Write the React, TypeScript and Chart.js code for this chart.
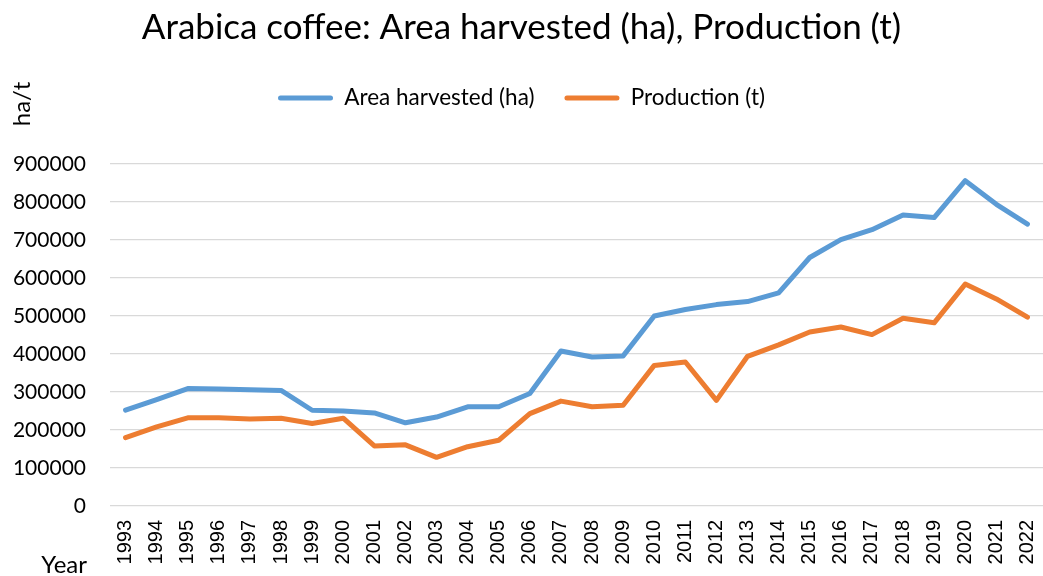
import React, { useEffect, useRef } from "react";
import { Chart, registerables } from "chart.js";

Chart.register(...registerables);

const years: string[] = [
  "1993", "1994", "1995", "1996", "1997", "1998", "1999", "2000", "2001", "2002",
  "2003", "2004", "2005", "2006", "2007", "2008", "2009", "2010", "2011", "2012",
  "2013", "2014", "2015", "2016", "2017", "2018", "2019", "2020", "2021", "2022",
];

const areaHarvested: number[] = [
  252000, 280000, 309000, 308000, 306000, 304000, 252000, 250000, 245000, 219000,
  234000, 261000, 261000, 296000, 408000, 392000, 395000, 500000, 517000, 530000,
  538000, 561000, 654000, 701000, 727000, 766000, 759000, 856000, 794000, 742000,
];

const production: number[] = [
  180000, 208000, 232000, 232000, 229000, 231000, 217000, 231000, 158000, 161000,
  128000, 156000, 173000, 243000, 276000, 261000, 265000, 370000, 379000, 278000,
  394000, 424000, 458000, 471000, 451000, 494000, 482000, 584000, 545000, 497000,
];

const yTicks: number[] = [0, 100000, 200000, 300000, 400000, 500000, 600000, 700000, 800000, 900000];

const titleText = "Arabica coffee: Area harvested (ha), Production (t)";
const yAxisLabel = "ha/t";
const xAxisLabel = "Year";

const FONT = "Lato, 'Open Sans', sans-serif";

const extraLabels = {
  id: "extraLabels",
  afterDraw(chart: any) {
    const ctx = chart.ctx;
    ctx.save();
    ctx.fillStyle = "#000000";
    ctx.font = `24px ${FONT}`;
    ctx.textBaseline = "middle";
    ctx.textAlign = "center";
    ctx.translate(22, 104);
    ctx.rotate(-Math.PI / 2);
    ctx.fillText(yAxisLabel, 0, 0);
    ctx.restore();
    ctx.save();
    ctx.fillStyle = "#000000";
    ctx.font = `24px ${FONT}`;
    ctx.textBaseline = "middle";
    ctx.textAlign = "right";
    ctx.fillText(xAxisLabel, 87, 565);
    ctx.restore();
  },
};

export default function App() {
  const ref = useRef<HTMLCanvasElement | null>(null);
  useEffect(() => {
    if (!ref.current) return;
    const chart = new Chart(ref.current, {
      type: "line",
      data: {
        labels: years,
        datasets: [
          {
            label: "Area harvested (ha)",
            data: areaHarvested,
            borderColor: "#5B9BD5",
            backgroundColor: "#5B9BD5",
            borderWidth: 5,
            pointRadius: 0,
            borderJoinStyle: "round",
            borderCapStyle: "round",
            tension: 0,
          },
          {
            label: "Production (t)",
            data: production,
            borderColor: "#ED7D31",
            backgroundColor: "#ED7D31",
            borderWidth: 5,
            pointRadius: 0,
            borderJoinStyle: "round",
            borderCapStyle: "round",
            tension: 0,
          },
        ],
      },
      options: {
        responsive: false,
        animation: false,
        layout: { padding: { left: 0, right: 0, top: 0, bottom: 0 } },
        plugins: {
          title: {
            display: true,
            text: titleText,
            color: "#000000",
            font: { family: FONT, size: 35, weight: "normal", lineHeight: 1.2 },
            padding: { top: 7, bottom: 7.75 },
          },
          subtitle: {
            display: true,
            text: "",
            weight: 500,
            font: { family: FONT, size: 10, lineHeight: 1.2 },
            padding: { top: 32.75, bottom: 0 },
          },
          legend: {
            display: true,
            position: "top",
            labels: {
              color: "#000000",
              font: { family: FONT, size: 22.5 },
              boxWidth: 55,
              boxHeight: 5,
              padding: 30,
              useBorderRadius: true,
              borderRadius: 2.5,
              generateLabels(chart: any) {
                return chart.data.datasets.map((ds: any, i: number) => ({
                  text: ds.label,
                  fillStyle: ds.borderColor,
                  strokeStyle: ds.borderColor,
                  lineWidth: 0,
                  fontColor: "#000000",
                  hidden: false,
                  datasetIndex: i,
                  borderRadius: 2.5,
                }));
              },
            },
          },
          tooltip: { enabled: false },
        },
        scales: {
          x: {
            type: "category",
            offset: true,
            grid: { display: false, drawTicks: false },
            border: { display: false },
            ticks: {
              color: "#000000",
              font: { family: "'Liberation Sans', Arial, sans-serif", size: 20 },
              minRotation: 90,
              maxRotation: 90,
              autoSkip: false,
              padding: 14,
            },
            afterFit(scale: any) {
              scale.height = 70;
              scale.paddingLeft = 0;
              scale.paddingRight = 0;
            },
          },
          y: {
            min: 0,
            max: 900000,
            afterBuildTicks(scale: any) {
              scale.ticks = yTicks.map((v) => ({ value: v }));
            },
            grid: { color: "#d9d9d9", lineWidth: 1.3, drawTicks: false },
            border: { display: false },
            ticks: {
              color: "#000000",
              font: { family: FONT, size: 21 },
              padding: 24,
              callback: (v: any) => String(v),
            },
            afterFit(scale: any) {
              scale.width = 110;
              scale.paddingTop = 0;
              scale.paddingBottom = 0;
            },
          },
        },
      },
      plugins: [extraLabels],
    });
    return () => chart.destroy();
  }, []);
  return (
    <div style={{ position: "fixed", left: 0, top: 0, width: 1043, height: 576, background: "#ffffff" }}>
      <canvas ref={ref} width={1043} height={576} style={{ display: "block" }} />
    </div>
  );
}
